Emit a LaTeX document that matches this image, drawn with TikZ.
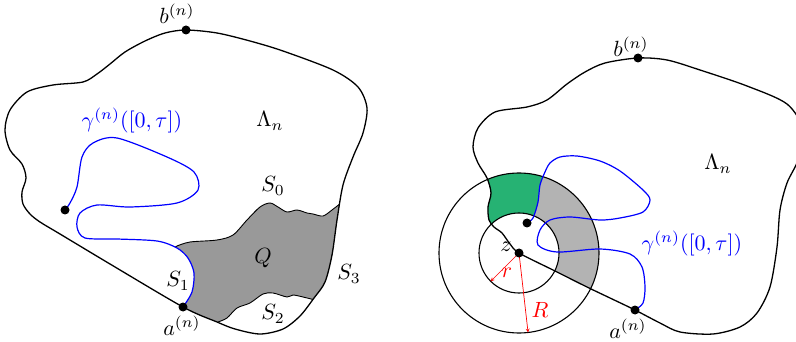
\documentclass[tikz,border=0pt]{standalone}
\usepackage{amsmath, amssymb}
\usepackage{xcolor}
\usepackage{tikz}
\usetikzlibrary{calc}
\definecolor{primary}{RGB}{0, 0, 0}
\definecolor{curve}{RGB}{0, 0, 255}
\definecolor{rcol}{RGB}{255, 0, 0}
\definecolor{qgray}{RGB}{153, 153, 153}
\definecolor{annulus}{RGB}{179, 179, 179}
\definecolor{crossing}{RGB}{38, 178, 115}

\newcommand\leftdomain{plot[smooth cycle] coordinates {(186,30) (217,33) (250,41) (283,51) (333,70) (358,87) (367,108) (363,133) (353,157) (343,185) (337,220) (332,255) (325,282) (314,298) (300,316) (283,329) (260,334) (235,329) (217,322) (183,307) (110,264) (60,234) (40,222) (30,214) (23,204) (22,192) (26,178) (22,164) (10,150) (5,130) (10,110) (27,92) (53,85) (83,82) (97,74) (110,64) (125,52) (145,41) (165,33)}}
\newcommand\rightdomain{plot[smooth cycle] coordinates {(638,58) (667,60) (700,70) (747,86) (787,104) (803,130) (798,160) (787,183) (780,210) (777,247) (770,287) (757,313) (740,327) (713,334) (680,332) (660,323) (635,310) (610,298) (587,287) (553,270) (519,253) (510,244) (502,233) (494,227) (489,220) (488,207) (491,193) (487,178) (478,163) (473,147) (478,128) (495,112) (527,107) (547,100) (567,84) (585,72) (605,63)}}
\newcommand\leftcurve{plot[smooth] coordinates {(183,307) (192,292) (194,273) (188,258) (177,248) (157,241) (117,239) (85,238) (77,227) (80,213) (97,205) (130,207) (177,203) (198,190) (194,172) (167,157) (117,138) (93,143) (82,157) (77,187) (70,203) (65,210)}}
\newcommand\rightcurve{plot[smooth] coordinates {(527,223) (533,218) (538,202) (540,185) (545,172) (550,163) (560,157) (577,156) (600,161) (620,171) (643,190) (650,200) (643,212) (620,218) (600,220) (570,217) (550,220) (540,230) (538,245) (557,252) (600,249) (630,254) (642,267) (645,287) (643,303) (635,310)}}

\begin{document}
\begin{tikzpicture}[x=1pt,y=-1pt,
  lbl/.style={scale=2.2,inner sep=0pt},
  bdot/.style={circle,fill=primary,inner sep=0pt,minimum size=9pt},
  bound/.style={primary,line width=1.3pt},
  ring/.style={primary,line width=1.1pt},
  rad/.style={rcol,line width=0.7pt,<->,>=stealth}]
\useasboundingbox (0,0) rectangle (796,342);
% left picture: the region Q
\begin{scope}
\clip \leftdomain;
\clip \leftcurve -- (55,205) -- (55,120) -- (400,120) -- (400,342) -- (183,342) -- cycle;
\filldraw[fill=qgray,draw=primary,line width=0.9pt] (160,256) -- plot[smooth] coordinates {(177,246) (190,242) (217,240) (233,235) (247,220) (260,207) (270,203) (278,207) (287,212) (297,210) (307,213) (313,214) (323,216) (332,210) (341,203)} -- (365,195) -- (350,302) -- (330,301) -- plot[smooth] coordinates {(315,300) (303,297) (293,295) (287,297) (273,293) (263,294) (250,303) (237,308) (227,318) (218,322)} -- (205,334) -- (160,334) -- cycle;
\end{scope}
\draw[bound] \leftdomain;
\draw[curve,line width=1.2pt] \leftcurve;
\node[bdot] (b1) at (186,30) {};
\node[bdot] (a1) at (183,307) {};
\node[bdot] (g1) at (65,210) {};
\node[lbl] (b1lbl) at (177,14) {$b^{(n)}$};
\node[lbl] (a1lbl) at (182,326) {$a^{(n)}$};
\node[lbl] (lam1) at (270,121) {$\Lambda_n$};
\node[lbl,curve] (gam1) at (132,120) {$\gamma^{(n)}([0,\tau])$};
\node[lbl] (s0) at (273,186) {$S_0$};
\node[lbl] (q) at (263,258) {$Q$};
\node[lbl] (s1) at (178,281) {$S_1$};
\node[lbl] (s2) at (273,314) {$S_2$};
\node[lbl] (s3) at (349,274) {$S_3$};
% right picture: annulus around z
\coordinate (z) at (519,253);
\begin{scope}
\clip \rightdomain;
\fill[annulus,even odd rule] (z) circle (80pt) (z) circle (40pt);
\clip plot[smooth] coordinates {(527,223) (533,218) (538,202) (540,185) (545,172) (550,163)} -- (550,140) -- (440,140) -- (440,236) -- (527,236) -- cycle;
\fill[crossing,even odd rule] (z) circle (80pt) (z) circle (40pt);
\end{scope}
\draw[ring] (z) circle (80pt) (z) circle (40pt);
\draw[bound] \rightdomain;
\draw[curve,line width=1.2pt] \rightcurve;
\coordinate (rend) at ($(z)+(135:40)$);
\coordinate (Rend) at ($(z)+(83.5:80)$);
\draw[rad] (z) -- (rend);
\draw[rad] (z) -- (Rend);
\node[bdot] (b2) at (638,58) {};
\node[bdot] (a2) at (635,310) {};
\node[bdot] (g2) at (527,223) {};
\node[bdot] (zdot) at (z) {};
\node[lbl] (b2lbl) at (631,47) {$b^{(n)}$};
\node[lbl] (a2lbl) at (628,329) {$a^{(n)}$};
\node[lbl] (lam2) at (718,164) {$\Lambda_n$};
\node[lbl,curve] (gam2) at (692,243) {$\gamma^{(n)}([0,\tau])$};
\node[lbl] (zlbl) at (506,247) {$z$};
\node[lbl,rcol] (rlbl) at (507,273) {$r$};
\node[lbl,rcol] (Rlbl) at (540,310) {$R$};
\end{tikzpicture}
\end{document}
